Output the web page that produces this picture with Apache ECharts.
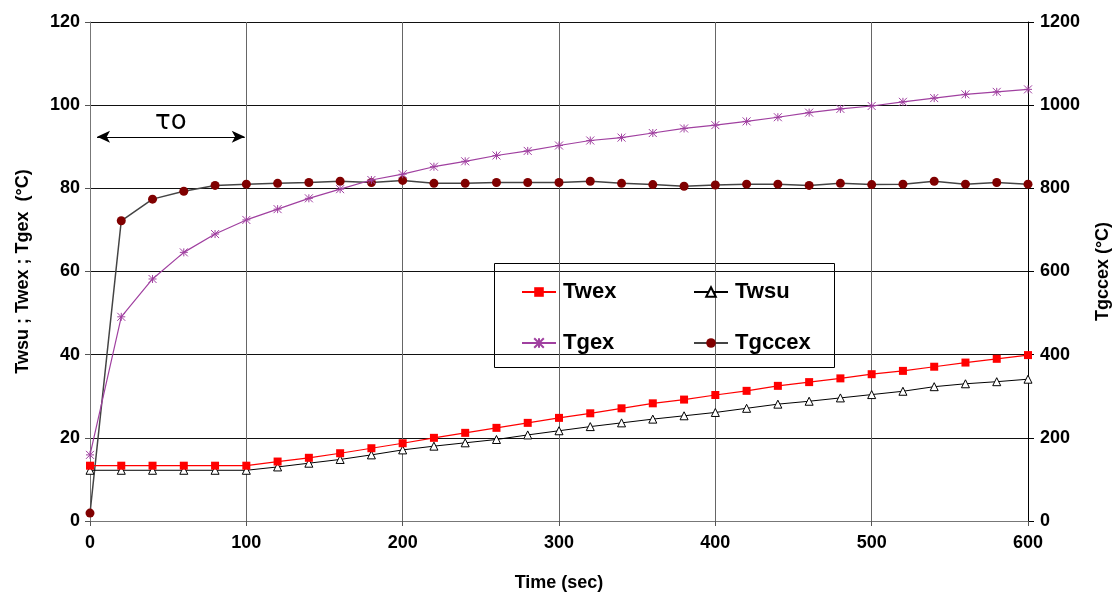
<!DOCTYPE html>
<html>
<head>
<meta charset="utf-8">
<script src="https://cdn.jsdelivr.net/npm/echarts@6/dist/echarts.min.js"></script>
<style>
  html, body { margin: 0; padding: 0; background: #fff; }
  #chart { width: 1117px; height: 597px; }
</style>
</head>
<body>
<div id="chart"></div>
<script>
// Time stamps (s)
const time = [0, 20, 40, 60, 80, 100, 120, 140, 160, 180, 200, 220, 240, 260, 280, 300,
              320, 340, 360, 380, 400, 420, 440, 460, 480, 500, 520, 540, 560, 580, 600];

// Left axis series (°C)
const twex = [13.3, 13.3, 13.3, 13.3, 13.3, 13.3, 14.3, 15.2, 16.3, 17.5, 18.7, 20.0, 21.2, 22.4, 23.6, 24.8,
              25.9, 27.1, 28.3, 29.2, 30.3, 31.3, 32.5, 33.4, 34.3, 35.3, 36.1, 37.1, 38.1, 39.0, 39.9];
const twsu = [12.2, 12.2, 12.2, 12.2, 12.2, 12.2, 13.0, 13.9, 14.8, 15.9, 17.1, 18.0, 18.8, 19.6, 20.7, 21.7,
              22.7, 23.6, 24.5, 25.3, 26.1, 27.1, 28.1, 28.8, 29.6, 30.4, 31.2, 32.3, 33.0, 33.5, 34.1];
const tgex = [15.9, 49.1, 58.2, 64.6, 69.0, 72.4, 75.0, 77.6, 79.8, 82.0, 83.4, 85.2, 86.5, 87.9, 89.0, 90.3,
              91.5, 92.2, 93.3, 94.4, 95.2, 96.1, 97.1, 98.2, 99.1, 99.8, 100.8, 101.7, 102.6, 103.2, 103.8];

// Right axis series (°C)
const tgccex = [19, 722, 774, 793, 807, 810, 812, 814, 817, 814, 819, 812, 812, 814, 814, 814,
                817, 812, 809, 805, 808, 810, 810, 807, 812, 809, 810, 817, 810, 814, 810];

const leftTicks = { min: 0, max: 120, step: 20 };
const rightTicks = { min: 0, max: 1200, step: 200 };
const timeTicks = { min: 0, max: 600, step: 100 };

// Start-up period τo marked with a double arrow
const tauSpan = [4.5, 99];
const tauLevel = 92.4;

const pairs = arr => time.map((t, i) => [t, arr[i]]);

const FONT = 'Liberation Sans';
const labelStyle = { color: '#000', fontWeight: 'bold', fontSize: 18, fontFamily: FONT };
const nameStyle = { color: '#000', fontWeight: 'bold', fontSize: 18, fontFamily: FONT };
const legendText = { fontSize: 22, fontWeight: 'bold', color: '#000', lineHeight: 22, padding: [0, 0, 0, 2] };
const asterisk = 'path://M0,0L10,10M10,0L0,10M5,0L5,10M0,5L10,5';

const chart = echarts.init(document.getElementById('chart'), null, { renderer: 'canvas' });

chart.setOption({
  animation: false,
  backgroundColor: '#fff',
  textStyle: { fontFamily: FONT },
  grid: { left: 90, right: 89, top: 22, bottom: 76, containLabel: false, outerBoundsMode: 'none' },
  xAxis: {
    type: 'value',
    min: timeTicks.min, max: timeTicks.max, interval: timeTicks.step,
    name: 'Time (sec)', nameLocation: 'middle', nameGap: 53,
    nameTextStyle: nameStyle,
    axisLine: { show: true, lineStyle: { color: '#777', width: 1 } },
    axisTick: { show: true, length: 5, lineStyle: { color: '#555' } },
    axisLabel: Object.assign({ margin: 13 }, labelStyle),
    splitLine: { show: true, lineStyle: { color: '#666', width: 1 } }
  },
  yAxis: [
    {
      type: 'value', position: 'left',
      min: leftTicks.min, max: leftTicks.max, interval: leftTicks.step,
      name: 'Twsu ; Twex ; Tgex  (°C)', nameLocation: 'middle', nameGap: 58, nameRotate: 90,
      nameTextStyle: nameStyle,
      axisLine: { show: true, lineStyle: { color: '#777', width: 1 } },
      axisTick: { show: true, length: 5, lineStyle: { color: '#555' } },
      axisLabel: Object.assign({ margin: 10 }, labelStyle),
      splitLine: { show: true, lineStyle: { color: '#111', width: 1 } }
    },
    {
      type: 'value', position: 'right',
      min: rightTicks.min, max: rightTicks.max, interval: rightTicks.step,
      name: 'Tgccex (°C)', nameLocation: 'middle', nameGap: 66, nameRotate: 90,
      nameTextStyle: nameStyle,
      axisLine: { show: true, lineStyle: { color: '#000', width: 1 } },
      axisTick: { show: true, length: 6, lineStyle: { color: '#000' } },
      axisLabel: Object.assign({ margin: 12, formatter: v => String(v) }, labelStyle),
      splitLine: { show: false }
    }
  ],
  legend: [
    {
      data: ['Twex', 'Tgex'],
      orient: 'vertical', left: 521, top: 281, padding: 0,
      itemWidth: 34, itemHeight: 12, itemGap: 29,
      textStyle: legendText
    },
    {
      data: ['Twsu', 'Tgccex'],
      orient: 'vertical', left: 693, top: 281, padding: 0,
      itemWidth: 34, itemHeight: 12, itemGap: 29,
      textStyle: legendText
    }
  ],
  graphic: [
    {
      type: 'rect', z: 0, silent: true,
      shape: { x: 494.5, y: 263.5, width: 340, height: 104 },
      style: { fill: '#fff', stroke: '#000', lineWidth: 1 }
    }
  ],
  series: [
    {
      name: 'Tgccex', type: 'line', yAxisIndex: 1, z: 3,
      data: pairs(tgccex),
      symbol: 'circle', symbolSize: 9,
      itemStyle: { color: '#800000' },
      lineStyle: { color: '#444', width: 1.5 }
    },
    {
      name: 'Tgex', type: 'line', yAxisIndex: 0, z: 4,
      data: pairs(tgex),
      symbol: asterisk, symbolSize: 8,
      itemStyle: { color: '#800080', borderColor: '#a040a0', borderWidth: 1 },
      lineStyle: { color: '#a040a0', width: 1.2 }
    },
    {
      name: 'Twsu', type: 'line', yAxisIndex: 0, z: 5,
      data: pairs(twsu),
      symbol: 'triangle', symbolSize: 8,
      itemStyle: { color: '#fff', borderColor: '#000', borderWidth: 1 },
      lineStyle: { color: '#000', width: 1 }
    },
    {
      name: 'Twex', type: 'line', yAxisIndex: 0, z: 6,
      data: pairs(twex),
      symbol: 'rect', symbolSize: 8,
      itemStyle: { color: '#ff0000' },
      lineStyle: { color: '#ff0000', width: 1.2 },
      markLine: {
        silent: true,
        symbol: ['arrow', 'arrow'],
        symbolSize: [9, 13],
        lineStyle: { color: '#000', type: 'solid', width: 1.2 },
        label: {
          show: true, position: 'middle', formatter: 'τo', distance: 2,
          color: '#000', fontSize: 26, fontFamily: 'DejaVu Sans', fontWeight: 'normal'
        },
        data: [[{ coord: [tauSpan[0], tauLevel] }, { coord: [tauSpan[1], tauLevel] }]]
      }
    }
  ]
});
</script>
</body>
</html>
